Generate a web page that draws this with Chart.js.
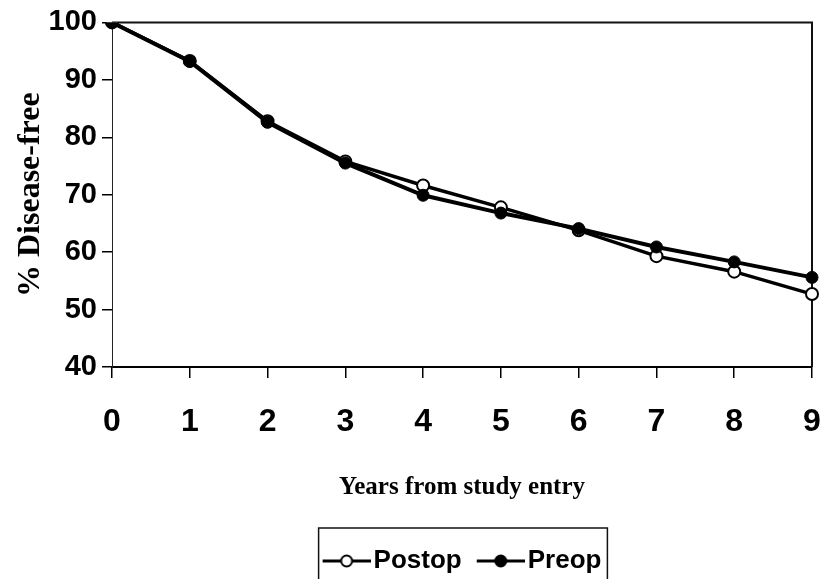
<!DOCTYPE html>
<html>
<head>
<meta charset="utf-8">
<script src="https://cdn.jsdelivr.net/npm/chart.js@4.4.1/dist/chart.umd.min.js"></script>
<style>
  html, body { margin: 0; padding: 0; background: #fff; overflow: hidden; }
  #wrap { width: 824px; height: 579px; overflow: hidden; }
</style>
</head>
<body>
<div id="wrap"><canvas id="myChart" width="824" height="584"></canvas></div>
<script>
// years since entry and % disease-free per group
const years = ['0', '1', '2', '3', '4', '5', '6', '7', '8', '9']
const postop = [100, 93.3, 82.8, 75.8, 71.6, 67.8, 63.8, 59.3, 56.6, 52.7]
const preop = [100, 93.2, 82.6, 75.5, 69.9, 66.8, 64.1, 60.9, 58.3, 55.6]
const yTicks = [40, 50, 60, 70, 80, 90, 100]

const sans = "'Liberation Sans Narrow', 'Arial Narrow', 'Liberation Sans', sans-serif"
const serif = "'Liberation Serif', 'Times New Roman', serif"

// legend symbol: short line with a marker in the middle
function legendSymbol(filled) {
    const c = document.createElement('canvas')
    c.width = 58
    c.height = 16
    const g = c.getContext('2d')
    g.strokeStyle = '#000'
    g.lineWidth = 3
    g.beginPath()
    g.moveTo(10, 8)
    g.lineTo(58, 8)
    g.stroke()
    g.beginPath()
    g.arc(34, 8, 5.5, 0, Math.PI * 2)
    g.fillStyle = filled ? '#000' : '#fff'
    g.fill()
    g.lineWidth = 2
    g.stroke()
    return c
}

// plot frame (top and right edges) and the box around the legend
const frames = {
    id: 'frames',
    beforeDatasetsDraw (chart) {
        const {ctx, chartArea: a} = chart
        ctx.save()
        ctx.strokeStyle = '#111'
        ctx.lineWidth = 2
        ctx.beginPath()
        ctx.moveTo(a.left, a.top)
        ctx.lineTo(a.right, a.top)
        ctx.lineTo(a.right, a.bottom)
        ctx.stroke()
        ctx.restore()
    },
    afterDraw (chart) {
        const lg = chart.legend
        if (!lg || !lg.legendHitBoxes.length) return
        const hb = lg.legendHitBoxes
        const left = hb[0].left - 4
        const right = hb[hb.length - 1].left + hb[hb.length - 1].width + 6
        const ctx = chart.ctx
        ctx.save()
        ctx.strokeStyle = '#111'
        ctx.lineWidth = 1.5
        ctx.strokeRect(left, 528, right - left, 80)
        ctx.restore()
    }
}

const ctx = document.getElementById('myChart')
const myChart = new Chart(ctx, {
    type: 'line',
    data: {
        labels: years,
        datasets: [{
            label: 'Postop',
            data: postop,
            order: 1,
            borderColor: '#000',
            borderWidth: 3.5,
            pointRadius: 6,
            pointBorderWidth: 2,
            pointBackgroundColor: '#fff',
            pointBorderColor: '#000',
            pointStyle: 'circle',
            tension: 0
        }, {
            label: 'Preop',
            data: preop,
            order: 0,
            borderColor: '#000',
            borderWidth: 4,
            pointRadius: 6,
            pointBorderWidth: 1,
            pointBackgroundColor: '#000',
            pointBorderColor: '#000',
            pointStyle: 'circle',
            tension: 0
        }]
    },
    options: {
        responsive: false,
        animation: false,
        layout: { padding: { top: 22, right: 12, left: 0, bottom: 0 } },
        plugins: {
            tooltip: { enabled: false },
            legend: {
                position: 'bottom',
                fullSize: false,
                labels: {
                    usePointStyle: true,
                    pointStyleWidth: 38,
                    padding: 15,
                    color: '#000',
                    font: { family: sans, size: 26, weight: 'bold' },
                    sort: (a, b) => a.datasetIndex - b.datasetIndex,
                    generateLabels (chart) {
                        const items = Chart.defaults.plugins.legend.labels.generateLabels(chart)
                        items.forEach(it => { it.pointStyle = legendSymbol(it.datasetIndex === 1) })
                        return items
                    }
                }
            }
        },
        scales: {
            x: {
                afterFit (scale) {
                    scale.height = 166
                    scale.paddingLeft = 0
                    scale.paddingRight = 0
                },
                grid: { drawOnChartArea: false, tickLength: 11, color: '#000', lineWidth: 1.5 },
                border: { color: '#000', width: 2 },
                ticks: {
                    color: '#000',
                    padding: 25,
                    maxRotation: 0,
                    font: { family: sans, size: 32, weight: 'bold' }
                },
                title: {
                    display: true,
                    text: 'Years from study entry',
                    color: '#000',
                    padding: { top: 0, bottom: 30 },
                    font: { family: serif, size: 25, weight: 'bold' }
                }
            },
            y: {
                min: 40,
                max: 100,
                afterFit (scale) { scale.width = 112 },
                afterBuildTicks (scale) { scale.ticks = yTicks.map(v => ({ value: v })) },
                grid: { drawOnChartArea: false, tickLength: 10, color: '#000', lineWidth: 1.5 },
                border: { color: '#222', width: 1 },
                ticks: {
                    color: '#000',
                    padding: 5,
                    font: { family: sans, size: 29, weight: 'bold' }
                },
                title: {
                    display: true,
                    text: '% Disease-free',
                    color: '#000',
                    padding: { top: 12, bottom: 0 },
                    font: { family: serif, size: 32, weight: 'bold' }
                }
            }
        }
    },
    plugins: [frames]
});
</script>
</body>
</html>
